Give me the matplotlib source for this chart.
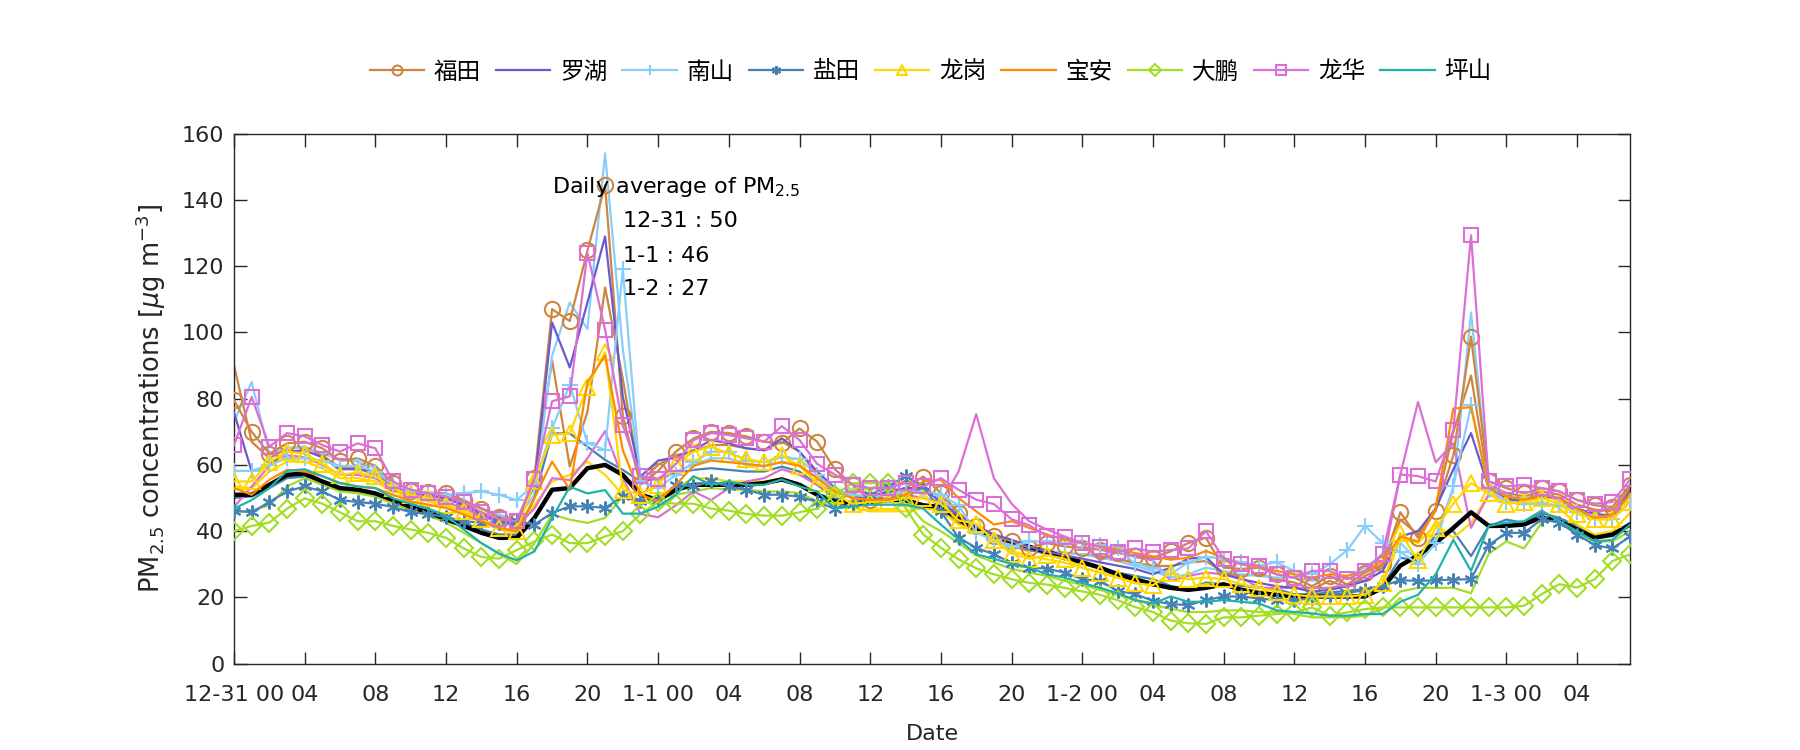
import matplotlib
matplotlib.use("Agg")
import matplotlib.pyplot as plt
import numpy as np

plt.rcParams['font.family'] = ['DejaVu Sans', 'Noto Sans CJK SC']

hours = np.arange(80)

# hourly PM2.5 (ug m-3), 12-31 00 ... 1-3 07
avg = [51, 51, 54, 57, 57.4, 55, 53, 52.5, 51.4, 49.4,
       47.3, 45.7, 43.6, 41.6, 39.5, 38, 38, 44, 52.5, 53,
       59, 60, 57, 51, 49.4, 52.5, 54, 54, 54, 54,
       54.5, 55.6, 54, 51, 49, 48.3, 48.8, 49.4, 49.4, 47.8,
       47.3, 43.6, 40.5, 38.4, 36.9, 35.3, 33.8, 32.2, 30.6, 29,
       27, 25.5, 24, 22.9, 22.3, 22.9, 24, 22.3, 21.3, 20.8,
       20.3, 20.3, 20.3, 20.3, 20.3, 22.9, 29.6, 32.7, 36.4, 41,
       45.7, 41.6, 41.6, 42, 44.2, 43, 40.5, 38, 39, 42]

futian = [79.5, 70, 63.4, 66.5, 67, 65, 61.3, 62, 59.7, 54.5,
          52, 51.7, 51.4, 49.4, 46.8, 44.2, 43, 56, 107, 103.4,
          124.7, 144.4, 74.8, 54, 58.2, 64, 68, 70, 69.6, 68.6,
          67, 66.5, 71, 67, 58.7, 54, 49.4, 51.5, 53, 56.5,
          51.5, 45.5, 41.5, 38.5, 37, 35, 36.4, 35.4, 35, 34.4,
          33.4, 32.6, 32, 33.9, 36.4, 38, 29, 28.6, 29, 27,
          26, 23.4, 26.5, 23.9, 27.5, 30, 45.7, 38, 46.2, 62.9,
          98.7, 55, 53, 51.4, 53, 52, 49.4, 47.8, 47.3, 54]
futian_b = [90, 67, 62, 65, 65.5, 63, 59, 59, 57, 53,
            51, 50.5, 50, 48, 45.5, 43, 42, 56.5, 91.5, 59.5,
            76, 113.5, 86, 55, 60, 63, 64, 66, 66, 65,
            64.5, 67, 64, 57, 53, 50, 49, 50, 51, 53,
            50, 45, 40, 37, 35.5, 34, 34, 33.5, 33, 32.5,
            31.5, 30.5, 29.5, 29.5, 30.5, 31, 27.5, 26.5, 27, 25.5,
            24.5, 22.5, 25, 23, 26.5, 29, 43.5, 39, 47, 70,
            87, 54, 51.5, 50.5, 52, 51, 48, 46.5, 46, 53]
luohu = [75.8, 58, 60, 64, 64.4, 62.3, 58.7, 58.7, 58, 53.5,
         51.4, 51, 50, 47.8, 45.2, 43, 42, 54, 103, 89.4,
         109, 128.9, 80.7, 56.5, 61.3, 62.3, 64.4, 67.5, 66.5, 65,
         64.4, 68, 64, 58, 53, 50, 50.4, 52, 53, 53,
         48.8, 44.7, 41.6, 39, 37.4, 35.3, 33.8, 32.7, 31.7, 30.6,
         29.6, 28.6, 27, 29, 31.7, 32.2, 27, 25.5, 24.4, 23.4,
         22.9, 21.8, 22.3, 23.4, 25, 28, 38.4, 40, 46.8, 58.7,
         69.6, 53, 50, 48.8, 50.4, 50, 46.8, 45.2, 44.7, 52]
nanshan = [58.2, 58.2, 60, 62, 62, 61.3, 59.7, 59.7, 58, 54,
           52, 51.4, 51, 51.4, 52, 51, 49.4, 54, 71, 84.2,
           66.6, 64.5, 119, 55, 53, 57, 60.8, 64, 64, 61.3,
           60.8, 62.3, 61.8, 57, 52.5, 51, 50.4, 51, 52, 52.5,
           51, 47.8, 39.5, 37.4, 35.3, 36.9, 36.9, 36.4, 36.4, 35.8,
           34.8, 30.1, 29, 27, 30.6, 32.2, 31.7, 30.6, 29.6, 30.6,
           28, 27, 30, 34.3, 41.6, 36.4, 33.8, 30.1, 36.4, 53.5,
           78, 52.5, 48.8, 48.3, 48.3, 47.8, 45.7, 43.6, 43.6, 48.8]
nanshan_b = [73, 85, 63.5, 65, 65.5, 63.5, 61.5, 61, 59, 54,
             52.5, 51.5, 50.5, 49, 47, 45, 43.5, 51, 93, 109,
             101, 154, 95, 57, 55, 58, 60, 62, 62, 60,
             59.5, 61, 60, 56, 52, 50, 49.5, 50, 51, 52,
             50, 45, 41, 38, 36, 35, 34, 33.5, 33, 32,
             31, 29.5, 28, 26, 27, 29, 28, 27, 26.5, 26,
             26, 25, 26, 26.5, 29, 33, 36.5, 31, 38.5, 53,
             106, 54, 51, 50, 51, 49.5, 45.5, 44.5, 44.5, 51]
yantian = [46.2, 45.7, 48.8, 52, 53.5, 52, 49.4, 48.8, 48.3, 47.3,
           45.7, 45.2, 44.2, 43, 42.6, 42.6, 43, 42, 45.5, 47.5,
           47.5, 47, 50.5, 49, 49.4, 54, 53.5, 55, 53.5, 52.5,
           51, 51, 50.4, 48.8, 46.8, 48.3, 51, 53.5, 56.6, 53.5,
           46, 38, 35, 33, 30.5, 29, 28.7, 27.5, 25.5, 25,
           22, 21, 19, 18, 17.7, 19.2, 20.3, 20.3, 19.7, 19.2,
           19.2, 19.7, 20.8, 21.3, 22.3, 23.5, 25.2, 25, 25.2, 25.4,
           25.5, 35.8, 39.5, 39.5, 43.6, 42.6, 39, 35.8, 34.8, 38.4]
yantian_b = [50, 50.5, 53, 56, 56.5, 55, 53, 52.5, 51.5, 49.5,
             47.5, 46, 44.5, 42.5, 40.5, 39, 39, 50, 69.5, 69.5,
             65.5, 61.5, 58.5, 55, 56, 57.5, 58.5, 59, 58.5, 58,
             58, 59.5, 58, 54, 50, 48.5, 48.5, 49, 49.5, 48,
             47.5, 42.5, 39.5, 38.5, 36.5, 34.5, 33, 31.5, 30.5, 29,
             27.5, 26.5, 25.5, 23.5, 22.5, 24.5, 24, 23.5, 23, 22.5,
             21, 21, 21.5, 22, 22.5, 23.5, 32, 31, 39, 40,
             32.5, 41.5, 43.5, 42.5, 45.5, 44, 41.5, 38, 38.5, 42.5]
longgang = [55, 55, 60.8, 64, 63.4, 60.3, 57, 57.7, 56.6, 53,
            51, 50, 47.8, 46.2, 43.6, 41, 40, 55, 69, 69.5,
            83.6, 94, 52.5, 51, 54, 60.3, 64, 65.5, 63.4, 61.8,
            60.8, 62.9, 59.7, 54.5, 51, 48.3, 48.8, 49, 50, 49.9,
            48.3, 43.3, 42.2, 37.2, 33.2, 31.7, 32.7, 31.7, 29, 27.5,
            26, 24.3, 23.7, 27.3, 25.5, 26, 25.5, 24, 22.9, 21.8,
            20.8, 20.3, 20.3, 20.3, 20.8, 24.4, 39.5, 31.2, 41, 48.3,
            54.5, 51.4, 48.3, 48.8, 50, 48.3, 45.2, 43.6, 43.6, 48.8]
longgang_b = [53.5, 53, 58, 61, 61, 59, 56, 56, 55, 52,
              50.5, 49, 47.5, 45.5, 43, 40.5, 39.5, 48, 55, 57,
              61, 57, 51, 48, 50, 53, 56, 56, 55, 55,
              55, 56, 54, 51, 48, 47, 46, 46, 46, 47,
              46, 42, 40, 37, 34, 32.5, 31.5, 30.5, 29, 27.5,
              26, 24.5, 23.5, 23, 23, 24, 23.5, 22.5, 22, 21,
              20.5, 20, 20.5, 20.5, 21, 24, 37.5, 36.5, 42, 38,
              42.5, 51, 49, 48, 49, 47, 42, 39, 40, 45.5]
baoan = [53, 51, 55.5, 58.5, 58, 56.6, 54.5, 53.5, 53, 51,
         49, 48, 47, 45, 43, 41, 40, 50, 61, 52.5,
         85, 93, 64.5, 51, 49, 54, 59.7, 61.3, 60.8, 60.3,
         59.7, 60.8, 59.7, 56, 52, 50, 49.4, 49.4, 51, 55,
         55.5, 50, 46, 42, 43, 41, 39, 37.4, 36.4, 35.4,
         34.4, 33.4, 32.4, 31.4, 32, 34, 32, 30, 29, 28,
         27, 26, 27, 26.5, 28, 31, 38.4, 36.9, 47, 77,
         77.4, 53, 50.5, 49.5, 51, 50, 46.8, 44, 45, 51]
dapeng = [40, 41.6, 42.6, 46.8, 49.9, 48.3, 45.7, 43, 43, 41.6,
          40.5, 39.5, 38, 34.8, 32.2, 31.7, 34.3, 36.9, 39, 36.4,
          36.4, 38.4, 40, 45.2, 48.8, 48.3, 48.3, 46.8, 46.2, 45.2,
          44.7, 44.7, 45.7, 46.8, 51, 54.5, 54.5, 54.5, 47, 39,
          35, 31.5, 28.8, 27, 25.5, 24.4, 23.9, 22.9, 21.8, 20.8,
          19.2, 17.1, 15.6, 13, 12.2, 12, 14, 14, 14.5, 15,
          15.5, 17, 14.5, 15.5, 16.5, 17, 17, 17, 17, 17,
          17, 17, 17, 17.5, 21, 24, 23, 25.5, 31, 33]
dapeng_b = [45.7, 46.2, 47.8, 53.5, 56, 54, 52, 51.4, 50.4, 48.3,
            46.2, 44.7, 42.6, 39.5, 36.4, 33.2, 30.1, 36.4, 45, 43.5,
            42.5, 44, 50.5, 49.5, 50, 51, 52, 53, 52.5, 52.5,
            52, 52, 51.5, 49, 48, 52, 53, 54, 49, 43,
            40, 36.4, 32.7, 30.6, 28.6, 27.5, 26.5, 25, 23.9, 22.3,
            20.8, 19.2, 17.7, 16.6, 15.6, 15.6, 16.1, 16.1, 15.6, 15.6,
            15, 14, 14, 14, 14.5, 16.6, 21.8, 22.9, 22.9, 22.9,
            21.3, 33.2, 36.9, 34.8, 42.6, 43.6, 39.5, 36.9, 36.9, 40]
longhua = [66, 80.5, 65.5, 69.6, 68.6, 66, 64, 66.5, 65, 55,
           52.5, 51.4, 50.4, 48.8, 45.7, 43.6, 43, 55.6, 79.2, 80.7,
           124, 100.8, 72, 56.6, 55.6, 60.3, 67.5, 69.6, 69, 68,
           67, 71.7, 67.5, 60.3, 57.1, 54, 53, 53, 54.5, 53.5,
           56, 52.5, 49.5, 48.2, 43.6, 41.8, 38.4, 38.2, 36.4, 35.2,
           33.8, 34.8, 33.8, 34.3, 34.8, 40, 31.7, 30.1, 29.6, 27,
           26, 28, 28, 25.5, 28, 33.2, 57.1, 56.6, 55, 70.6,
           129.3, 55, 53.5, 54, 53, 52, 49.4, 48.3, 48.8, 55.6]
longhua_b = [47.3, 53.5, 59.7, 62.9, 62.3, 60, 57, 57, 56, 52.5,
             51, 50, 48.8, 46.8, 44.7, 42.6, 41.6, 46.8, 56, 55.4,
             62, 70.2, 56, 45.2, 44.2, 47.8, 52, 49.4, 53, 55,
             56, 58.7, 57, 54, 52, 50.4, 50, 50, 51, 50,
             48.8, 58, 75.3, 56, 48.3, 43, 40.5, 38.4, 36.4, 31.2,
             33.8, 32.2, 31.2, 25, 26.5, 27.5, 27, 26, 22.9, 22.9,
             22.9, 22.9, 22.9, 23.9, 25, 30.1, 57, 79, 60.8, 66.5,
             41, 51, 49.4, 49.4, 51, 49.4, 45.7, 43.6, 44.2, 48.8]
pingshan = [46.8, 49.4, 53, 58.2, 58.7, 56.6, 54.5, 53.5, 53, 49.9,
            48.3, 46.8, 44.7, 40.5, 36.4, 33.2, 31.2, 33.9, 44, 53.4,
            51.4, 52.4, 45.3, 45.3, 47.4, 51, 56.6, 54, 55, 54,
            54, 55.6, 53.5, 52, 46.8, 47.5, 48, 48, 48, 46.8,
            42, 37.5, 33, 31.7, 30.1, 29, 27, 26, 24.4, 22.9,
            21.3, 19.2, 18.2, 20.3, 18.7, 18.7, 19.2, 18.7, 18.2, 16.1,
            15.6, 15.2, 14.5, 14.5, 15, 15, 18.7, 20.8, 27, 37.4,
            28, 41.6, 42.6, 43, 46.2, 43, 40, 36.9, 37.4, 42]

names = ['福田', '罗湖', '南山', '盐田', '龙岗', '宝安', '大鹏', '龙华', '坪山']
colors = ['#CD853F', '#6A5ACD', '#87CEFA', '#4682B4', '#FFD700',
          '#FF8C00', '#A2DE26', '#DA70D6', '#20B2AA']
markers = ['o', None, '+', (6, 2, 0), '^', None, 'D', 's', None]
msizes = [11, 0, 11, 10, 11, 0, 9.5, 10, 0]
series = [futian, luohu, nanshan, yantian, longgang, baoan, dapeng, longhua, pingshan]
second = {0: futian_b, 2: nanshan_b, 3: yantian_b, 4: longgang_b, 6: dapeng_b, 7: longhua_b}

tick_pos = list(range(0, 80, 4))
tick_lab = ['12-31 00', '04', '08', '12', '16', '20',
            '1-1 00', '04', '08', '12', '16', '20',
            '1-2 00', '04', '08', '12', '16', '20',
            '1-3 00', '04']

fig = plt.figure(figsize=(18, 7.5), dpi=100)
ax = fig.add_axes([0.13, 0.115, 0.7756, 0.707])

lw = 1.6
for i, s in second.items():
    ax.plot(hours, s, color=colors[i], lw=lw, zorder=2)

ax.plot(hours, avg, color='black', lw=3.2, zorder=2.5)

handles = []
for i in range(9):
    h, = ax.plot(hours, series[i], color=colors[i], lw=lw, marker=markers[i],
                 markersize=msizes[i], markerfacecolor='none', markeredgewidth=1.5,
                 label=names[i], zorder=3)
    handles.append(h)

ax.set_xlim(0, 79)
ax.set_ylim(0, 160)
ax.set_yticks(range(0, 161, 20))
ax.set_xticks(tick_pos)
ax.set_xticklabels(tick_lab)
ax.tick_params(direction='in', length=9, width=1, top=True, right=True,
               labelsize=16, colors='#262626')
ax.tick_params(axis='x', pad=15)
ax.tick_params(axis='y', pad=7)
for sp in ax.spines.values():
    sp.set_color('#262626')
    sp.set_linewidth(1)

ax.set_xlabel('Date', fontsize=16, color='#262626', labelpad=14)
ax.set_ylabel('PM$_{2.5}$ concentrations [$\\mu$g m$^{-3}$]', fontsize=18.5,
              color='#262626', labelpad=10)

ax.text(18, 144, 'Daily average of PM$_{2.5}$', fontsize=16, va='center', ha='left')
ax.text(22, 133.5, '12-31 : 50', fontsize=16, va='center', ha='left')
ax.text(22, 123, '1-1 : 46', fontsize=16, va='center', ha='left')
ax.text(22, 113, '1-2 : 27', fontsize=16, va='center', ha='left')

leg = fig.legend(handles=handles, loc='center', bbox_to_anchor=(0.517, 0.904),
                 ncol=9, frameon=False, handlelength=2.3, handletextpad=0.4,
                 columnspacing=0.65, markerscale=0.65,
                 prop={'family': ['Noto Sans CJK SC', 'DejaVu Sans'], 'size': 17})

fig.savefig('out.png', dpi=100)
